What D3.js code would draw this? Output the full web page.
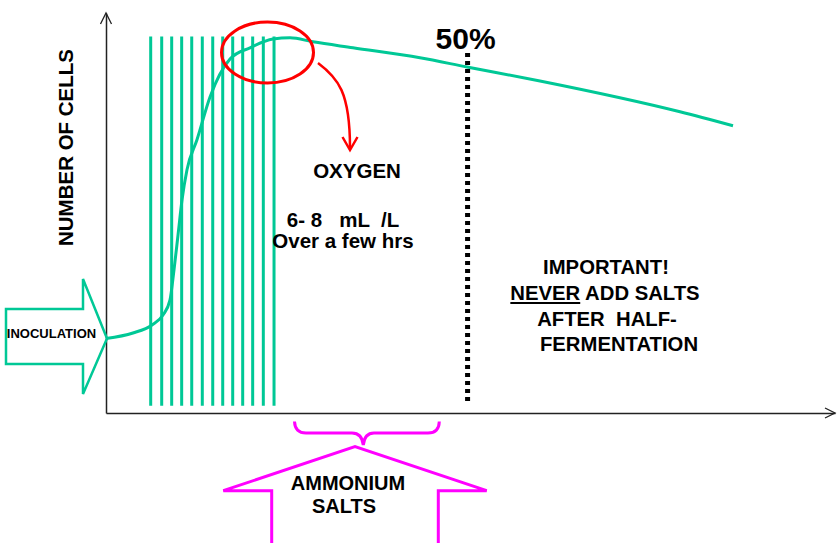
<!DOCTYPE html>
<html>
<head>
<meta charset="utf-8">
<script src="https://cdn.jsdelivr.net/npm/d3@7"></script>
<style>
  html, body { margin: 0; padding: 0; background: #fff; }
  svg { display: block; }
  text { font-family: "Liberation Sans", Arial, Helvetica, sans-serif; font-weight: bold; fill: #000; white-space: pre; }
</style>
</head>
<body>
<svg id="chart" width="837" height="543"></svg>
<script>
// ---- data (time and cell count in relative units, 0-100) ----
const growthTime  = [0, 3.70, 6.31, 7.82, 8.78, 9.33, 9.88, 10.43, 11.11, 12.48, 14.27, 17.01, 19.75, 22.91, 25.24, 28.40, 33.88, 43.07, 49.52, 59.53, 78.74, 86.01];
const growthCells = [18.6, 20.0, 22.0, 24.5, 28.3, 35.8, 44.5, 53.3, 60.8, 68.3, 79.0, 88.5, 91.3, 93.5, 93.8, 92.8, 91.3, 88.8, 86.5, 83.0, 75.3, 71.8];
const additionTimes = [6.13, 7.64, 9.01, 10.38, 11.76, 13.21, 14.64, 16.01, 17.38, 18.75, 20.12, 21.58, 23.05];
const additionRange = [1.8, 94.1];      // cells-axis extent of the addition lines
const halfFermentation = 49.6;           // time of the 50% mark
const halfRange = [2.75, 90];
const yAxisLabel = "NUMBER OF CELLS";
const halfLabel = "50%";
const oxygenLines = ["OXYGEN", "6- 8   mL  /L", "Over a few hrs"];
const importantLines = ["IMPORTANT!", "NEVER ADD SALTS", "AFTER  HALF-", "FERMENTATION"];
const inoculationLabel = "INOCULATION";
const ammoniumLines = ["AMMONIUM", "SALTS"];

const GREEN = "#00c896", RED = "#ff0000", MAGENTA = "#ff00ff";

const svg = d3.select("#chart");
const x = d3.scaleLinear().domain([0, 100]).range([106, 835]);
const y = d3.scaleLinear().domain([0, 100]).range([413, 13]);

// addition lines
svg.append("g").selectAll("line").data(additionTimes).join("line")
  .attr("x1", d => x(d)).attr("x2", d => x(d))
  .attr("y1", y(additionRange[0])).attr("y2", y(additionRange[1]))
  .attr("stroke", GREEN).attr("stroke-width", 3);

// axes (no ticks)
const axisColor = "#222";
const gx = svg.append("g").attr("transform", `translate(0,${y(0)})`)
  .call(d3.axisBottom(x).tickValues([]).tickSizeOuter(0));
const gy = svg.append("g").attr("transform", `translate(${x(0)},0)`)
  .call(d3.axisLeft(y).tickValues([]).tickSizeOuter(0));
[gx, gy].forEach(g => g.select(".domain").attr("stroke", axisColor).attr("stroke-width", 1.5));
// arrowheads
svg.append("path")
  .attr("d", `M${x(0)-5.5},${y(100)+11} L${x(0)},${y(100)} L${x(0)+5.5},${y(100)+11}`)
  .attr("fill", "none").attr("stroke", axisColor).attr("stroke-width", 1.3);
svg.append("path")
  .attr("d", `M${x(100)-10},${y(0)-5} L${x(100)},${y(0)} L${x(100)-10},${y(0)+5}`)
  .attr("fill", "none").attr("stroke", axisColor).attr("stroke-width", 1.3);

// growth curve
const line = d3.line().x((d, i) => x(growthTime[i])).y((d, i) => y(growthCells[i])).curve(d3.curveMonotoneX);
svg.append("path").datum(growthTime).attr("d", line)
  .attr("fill", "none").attr("stroke", GREEN).attr("stroke-width", 3);

// 50% dotted line
svg.append("line")
  .attr("x1", x(halfFermentation)).attr("x2", x(halfFermentation))
  .attr("y1", y(halfRange[1])).attr("y2", y(halfRange[0]))
  .attr("stroke", "#000").attr("stroke-width", 5).attr("stroke-dasharray", "4,4");
svg.append("text").attr("x", x(halfFermentation) - 2).attr("y", 49)
  .attr("text-anchor", "middle").attr("font-size", 30).text(halfLabel);

// red ellipse around peak + arrow
svg.append("ellipse").attr("cx", 267.5).attr("cy", 52.5).attr("rx", 46).attr("ry", 30.5)
  .attr("fill", "none").attr("stroke", RED).attr("stroke-width", 3);
svg.append("path").attr("d", "M318,63 C338,78 350,92 350,148")
  .attr("fill", "none").attr("stroke", RED).attr("stroke-width", 2.5);
svg.append("path").attr("d", "M342.5,137 L350,150 L357.5,137")
  .attr("fill", "none").attr("stroke", RED).attr("stroke-width", 2.5);

// oxygen text
const oxy = [{t: oxygenLines[0], x: 357, y: 178}, {t: oxygenLines[1], x: 343, y: 227}, {t: oxygenLines[2], x: 343, y: 248}];
svg.append("g").selectAll("text").data(oxy).join("text")
  .attr("x", d => d.x).attr("y", d => d.y).attr("text-anchor", "middle")
  .attr("font-size", 20.5).text(d => d.t);

// important text
const imp = [{x: 606, y: 274}, {x: 605, y: 300}, {x: 607, y: 326}, {x: 619, y: 351}];
const impT = svg.append("g").selectAll("text").data(imp).join("text")
  .attr("x", d => d.x).attr("y", d => d.y).attr("text-anchor", "middle")
  .attr("font-size", 20.3).text((d, i) => importantLines[i]);
// underline "NEVER"
{
  const t = impT.nodes()[1];
  const bb = t.getBBox();
  const w = t.getSubStringLength(0, 5);
  svg.append("line").attr("x1", bb.x).attr("x2", bb.x + w)
    .attr("y1", 303).attr("y2", 303).attr("stroke", "#000").attr("stroke-width", 2);
}

// inoculation arrow
svg.append("path")
  .attr("d", "M6,309 L83,309 L83,279 L107,338.5 L83,394 L83,364 L6,364 Z")
  .attr("fill", "none").attr("stroke", GREEN).attr("stroke-width", 2.5).attr("stroke-linejoin", "miter");
svg.append("text").attr("x", 51.5).attr("y", 338).attr("text-anchor", "middle")
  .attr("font-size", 13).text(inoculationLabel);

// ammonium brace + arrow
svg.append("path")
  .attr("d", "M294.5,421.5 Q295,433 306,433 L352,433 Q362,433 363.3,445 Q364.5,433 374,433 L428,433 Q439,433 439.3,421.5")
  .attr("fill", "none").attr("stroke", MAGENTA).attr("stroke-width", 3);
svg.append("path")
  .attr("d", "M271.7,546 V490.7 H223.3 L355,446.7 L486.7,490.7 H438.3 V546")
  .attr("fill", "none").attr("stroke", MAGENTA).attr("stroke-width", 3);
const amm = [{x: 348, y: 490}, {x: 344, y: 513}];
svg.append("g").selectAll("text").data(amm).join("text")
  .attr("x", d => d.x).attr("y", d => d.y).attr("text-anchor", "middle")
  .attr("font-size", 20).text((d, i) => ammoniumLines[i]);

// y axis label
svg.append("text").attr("transform", "translate(73,147.5) rotate(-90)")
  .attr("text-anchor", "middle").attr("font-size", 20.5).text(yAxisLabel);
</script>
</body>
</html>
